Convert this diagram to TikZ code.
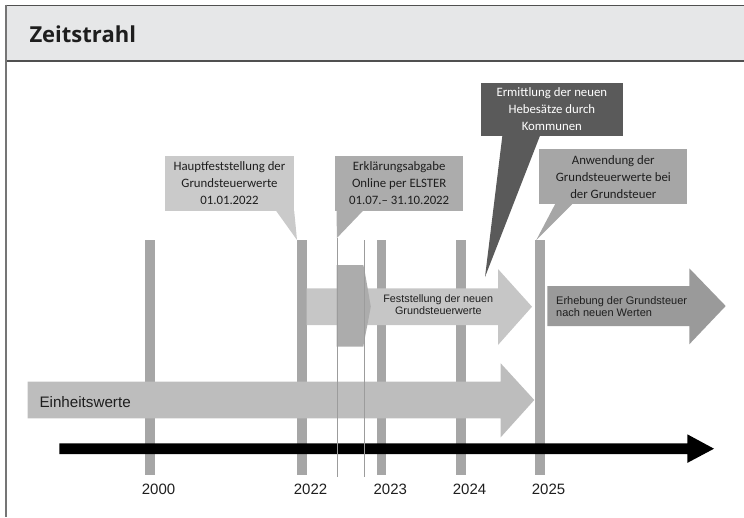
\documentclass[tikz,border=0pt]{standalone}
\usepackage{fontspec}
\setmainfont{Liberation Sans}
\newfontfamily\calfont{Carlito}
\newfontfamily\headfont{Open Sans}
\usetikzlibrary{calc}

\definecolor{headbg}{HTML}{E6E7E8}
\definecolor{frameline}{HTML}{505050}
\definecolor{sideline}{HTML}{757575}
\definecolor{bargray}{HTML}{A6A6A6}
\definecolor{thinline}{HTML}{9C9C9C}
\definecolor{boxlight}{HTML}{CACACA}
\definecolor{boxmid}{HTML}{ACACAC}
\definecolor{boxdark}{HTML}{5A5A5A}
\definecolor{boxapply}{HTML}{A6A6A6}
\definecolor{arrowlight}{HTML}{C6C6C6}
\definecolor{arrowold}{HTML}{BDBDBD}
\definecolor{arrowlevy}{HTML}{9A9A9A}
\definecolor{txt}{HTML}{1E1E1E}

\tikzset{
  callbox/.style={rectangle, inner sep=0pt, align=center, text=txt,
    font=\calfont\fontsize{12.8}{17}\selectfont},
  yearlabel/.style={anchor=base west, inner sep=0pt, text=txt,
    font=\fontsize{15}{18}\selectfont},
  arrowtext/.style={inner sep=0pt, text=txt,
    font=\fontsize{10.8}{12.7}\selectfont},
  yearbar/.style={fill=bargray},
  guide/.style={draw=thinline, line width=0.8pt},
}

\begin{document}
\begin{tikzpicture}[x=1pt,y=-1pt]
\useasboundingbox (0,0) rectangle (744,517);

% header band and frame
\fill[headbg] (6,5.5) rectangle (744,61.3);
\draw[frameline, line width=1.8pt] (6,5.5) -- (744,5.5);
\draw[frameline, line width=1.8pt] (6,61.3) -- (744,61.3);
\draw[sideline, line width=2pt] (6,4.6) -- (6,517);
\node[anchor=base west, inner sep=0pt, text=txt,
      font=\headfont\bfseries\fontsize{22}{26}\selectfont] (title) at (29.3,42.5) {Zeitstrahl};

% year bars
\foreach \name/\xl in {b2000/145, b2022/297, b2023/376.7, b2024/456, b2025/535.3}{
  \fill[yearbar] (\xl,240) rectangle ++(9.5,234.5);
  \coordinate (\name) at (\xl,240);
}

% Feststellung der neuen Grundsteuerwerte
\fill[arrowlight] (306.5,288.3) -- (498,288.3) -- (498,269) -- (532,306.7)
  -- (498,345) -- (498,325) -- (306.5,325) -- cycle;
\node[arrowtext, align=center] (fest) at (438.3,304.7)
  {Feststellung der neuen\\Grundsteuerwerte};

% declaration period block
\fill[boxmid] (336.7,265) -- (363.3,265) -- (364.5,270) -- (370.8,306.7)
  -- (364.5,340) -- (363.3,346.7) -- (336.7,346.7) -- cycle;

% Erhebung der Grundsteuer nach neuen Werten
\fill[arrowlevy] (547.3,286) -- (689.3,286) -- (689.3,268.3) -- (725.7,306)
  -- (689.3,344.3) -- (689.3,326) -- (547.3,326) -- cycle;
\node[arrowtext, align=left, anchor=west, font=\fontsize{11}{12.3}\selectfont]
  (erheb) at (556,306.3) {Erhebung der Grundsteuer\\nach neuen Werten};

% Einheitswerte
\fill[arrowold] (27.7,381.7) -- (500.7,381.7) -- (500.7,363.3) -- (534.3,400)
  -- (500.7,437.3) -- (500.7,418.3) -- (27.7,418.3) -- cycle;
\node[anchor=base west, inner sep=0pt, text=txt, font=\fontsize{15.2}{18}\selectfont]
  (einh) at (39.3,407.3) {Einheitswerte};

% time axis
\coordinate (axisStart) at (59.3,448.7);
\coordinate (axisTip) at (714,448.7);
\fill[black] (59.3,443.4) -- (687.3,443.4) -- (687.3,434.3) -- (axisTip)
  -- (687.3,462.9) -- (687.3,454) -- (59.3,454) -- cycle;

% guide lines of the declaration period
\coordinate (gA) at (336.9,238);
\coordinate (gB) at (364,240);
\draw[guide] (gA) -- (336.9,476.5);
\draw[guide] (gB) -- (364,476.5);

% year labels
\node[yearlabel] (y2000) at (141.7,494.3) {2000};
\node[yearlabel] (y2022) at (293.7,494.3) {2022};
\node[yearlabel] (y2023) at (373.4,494.3) {2023};
\node[yearlabel] (y2024) at (452.7,494.3) {2024};
\node[yearlabel] (y2025) at (531.7,494.3) {2025};

% callouts
\node[callbox, fill=boxlight, minimum width=129, minimum height=54.7]
  (hf) at (229.5,183.4) {Hauptfeststellung der\\Grundsteuerwerte\\01.01.2022};
\fill[boxlight] ([xshift=-18pt]hf.south east) -- (b2022) -- (hf.south east) -- cycle;

\node[callbox, fill=boxmid, minimum width=128.3, minimum height=54.7]
  (ea) at (399.2,183.4) {Erklärungsabgabe\\Online per ELSTER\\01.07.– 31.10.2022};
\fill[boxmid] ([xshift=1.7pt]ea.south west) -- (gA) -- ([xshift=28pt]ea.south west) -- cycle;

\coordinate (ehTip) at (485,277);
\node[callbox, fill=boxdark, text=white, minimum width=141.7, minimum height=53.3]
  (eh) at (551.85,109.35) {Ermittlung der neuen\\Hebesätze durch\\Kommunen};
\fill[boxdark] ([xshift=21.5pt]eh.south west) -- (ehTip) -- ([xshift=59pt]eh.south west) -- cycle;

\node[callbox, fill=boxapply, minimum width=148, minimum height=54.7]
  (aw) at (613.3,176.65) {Anwendung der\\Grundsteuerwerte bei\\der Grundsteuer};
\fill[boxapply] ([xshift=16pt]aw.south west) -- ([xshift=1pt]b2025) -- ([xshift=33pt]aw.south west) -- cycle;

\end{tikzpicture}
\end{document}
